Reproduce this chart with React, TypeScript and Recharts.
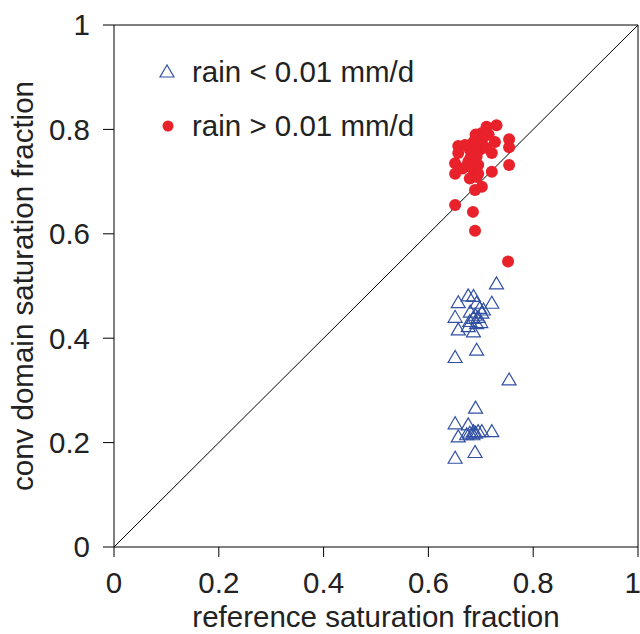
import React from 'react';
import { ScatterChart, Scatter, XAxis, YAxis, ReferenceLine } from 'recharts';

const axisTicks = [0, 0.2, 0.4, 0.6, 0.8, 1];
const seriesNames = ['rain < 0.01 mm/d', 'rain > 0.01 mm/d'];

const wetX = [0.711, 0.73, 0.702, 0.657, 0.657, 0.754, 0.754, 0.727, 0.686, 0.679, 0.698, 0.721, 0.692, 0.651, 0.651, 0.676, 0.686, 0.695, 0.754, 0.721, 0.679, 0.692, 0.702, 0.689, 0.651, 0.685, 0.689, 0.752, 0.69, 0.705, 0.715, 0.67, 0.68, 0.70, 0.71, 0.665, 0.695, 0.675];
const wetY = [0.805, 0.808, 0.793, 0.768, 0.755, 0.781, 0.766, 0.776, 0.776, 0.761, 0.761, 0.755, 0.748, 0.735, 0.715, 0.738, 0.722, 0.732, 0.732, 0.719, 0.706, 0.709, 0.69, 0.684, 0.655, 0.642, 0.606, 0.547, 0.79, 0.785, 0.79, 0.77, 0.745, 0.77, 0.765, 0.725, 0.715, 0.73];

const dryX = [0.73, 0.657, 0.676, 0.686, 0.721, 0.692, 0.698, 0.705, 0.651, 0.702, 0.689, 0.686, 0.679, 0.692, 0.657, 0.686, 0.676, 0.692, 0.651, 0.754, 0.69, 0.651, 0.676, 0.657, 0.679, 0.686, 0.695, 0.702, 0.721, 0.673, 0.689, 0.651, 0.695, 0.70, 0.68, 0.685, 0.69];
const dryY = [0.504, 0.468, 0.481, 0.48, 0.467, 0.467, 0.457, 0.454, 0.44, 0.448, 0.444, 0.438, 0.432, 0.428, 0.416, 0.412, 0.422, 0.377, 0.363, 0.32, 0.266, 0.236, 0.234, 0.211, 0.218, 0.221, 0.221, 0.221, 0.221, 0.215, 0.181, 0.17, 0.44, 0.43, 0.45, 0.215, 0.218];

const wetData = wetX.map((x, i) => ({ x, y: wetY[i] }));
const dryData = dryX.map((x, i) => ({ x, y: dryY[i] }));

const FONT = '"Liberation Sans", Arial, Helvetica, sans-serif';
const FS = 29.5;
const RED = '#e8212a';
const BLUE = '#3150a3';

const Triangle = (props: any) => {
  const { cx, cy } = props;
  if (cx == null || cy == null) return null;
  return (
    <polygon
      points={`${cx},${cy - 7} ${cx - 7},${cy + 5} ${cx + 7},${cy + 5}`}
      fill="none"
      stroke={BLUE}
      strokeWidth={1.2}
    />
  );
};

const Dot = (props: any) => {
  const { cx, cy } = props;
  if (cx == null || cy == null) return null;
  return <circle cx={cx} cy={cy} r={6} fill={RED} />;
};

const LegendBox = () => (
  <div
    style={{
      position: 'absolute',
      left: 155,
      top: 45,
      fontFamily: FONT,
      fontSize: FS,
      color: '#222',
      lineHeight: '54px',
      pointerEvents: 'none',
    }}
  >
    <div style={{ display: 'flex', alignItems: 'center' }}>
      <svg width={30} height={20} style={{ marginRight: 7 }}>
        <polygon points="12,3 5,15 19,15" fill="none" stroke={BLUE} strokeWidth={1.2} />
      </svg>
      <span>{seriesNames[0]}</span>
    </div>
    <div style={{ display: 'flex', alignItems: 'center' }}>
      <svg width={30} height={20} style={{ marginRight: 7 }}>
        <circle cx={13} cy={10} r={5.5} fill={RED} />
      </svg>
      <span>{seriesNames[1]}</span>
    </div>
  </div>
);

const tickStyle = { fontFamily: FONT, fontSize: FS, fill: '#222' };
const fmt = (v: number) => String(v);

export default function App() {
  return (
    <div style={{ position: 'absolute', left: 0, top: 0, width: 640, height: 634, background: '#fff' }}>
      <ScatterChart width={640} height={634} margin={{ top: 0, right: 0, bottom: 0, left: 0 }}>
        <XAxis
          xAxisId="b"
          dataKey="x"
          type="number"
          domain={[0, 1]}
          ticks={axisTicks}
          tickFormatter={fmt}
          height={87}
          tickSize={10}
          tickMargin={15}
          tick={tickStyle}
          axisLine={{ stroke: '#000', strokeWidth: 1 }}
          tickLine={{ stroke: '#000', strokeWidth: 1 }}
          allowDataOverflow
          label={{
            content: () => (
              <text x={376} y={627} textAnchor="middle" fontFamily={FONT} fontSize={FS} fill="#222">
                reference saturation fraction
              </text>
            ),
          }}
        />
        <XAxis
          xAxisId="t"
          orientation="top"
          type="number"
          domain={[0, 1]}
          ticks={axisTicks}
          height={25}
          tickSize={10}
          tick={false}
          axisLine={{ stroke: '#000', strokeWidth: 1 }}
          tickLine={{ stroke: '#000', strokeWidth: 1 }}
          allowDataOverflow
        />
        <YAxis
          yAxisId="l"
          dataKey="y"
          type="number"
          domain={[0, 1]}
          ticks={axisTicks}
          tickFormatter={fmt}
          width={114}
          tickSize={11}
          tickMargin={13}
          tick={tickStyle}
          axisLine={{ stroke: '#000', strokeWidth: 1 }}
          tickLine={{ stroke: '#000', strokeWidth: 1 }}
          allowDataOverflow
          label={{
            content: () => (
              <text
                x={33}
                y={286}
                transform="rotate(-90 33 286)"
                textAnchor="middle"
                fontFamily={FONT}
                fontSize={FS}
                fill="#222"
              >
                conv domain saturation fraction
              </text>
            ),
          }}
        />
        <YAxis
          yAxisId="r"
          orientation="right"
          type="number"
          domain={[0, 1]}
          ticks={axisTicks}
          width={2}
          tickSize={10}
          tick={false}
          axisLine={{ stroke: '#000', strokeWidth: 1 }}
          tickLine={{ stroke: '#000', strokeWidth: 1 }}
          allowDataOverflow
        />
        <ReferenceLine
          xAxisId="b"
          yAxisId="l"
          segment={[{ x: 0, y: 0 }, { x: 1, y: 1 }]}
          stroke="#000"
          strokeWidth={1}
        />
        <Scatter
          name={seriesNames[0]}
          xAxisId="b"
          yAxisId="l"
          data={dryData}
          shape={Triangle}
          isAnimationActive={false}
        />
        <Scatter
          name={seriesNames[1]}
          xAxisId="b"
          yAxisId="l"
          data={wetData}
          shape={Dot}
          isAnimationActive={false}
        />
      </ScatterChart>
      <LegendBox />
    </div>
  );
}
